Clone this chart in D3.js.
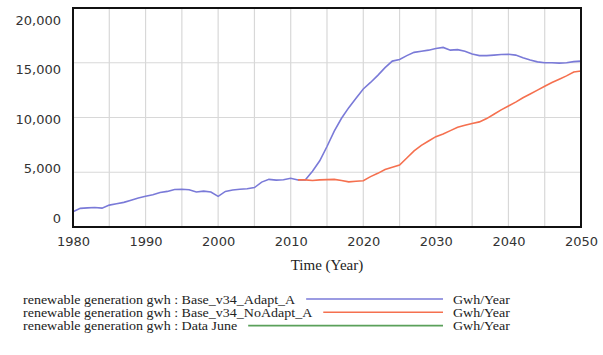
<!DOCTYPE html>
<html>
<head>
<meta charset="utf-8">
<script src="https://cdn.jsdelivr.net/npm/d3@7"></script>
<style>
  html, body { margin: 0; padding: 0; background: #fff; }
  svg { display: block; }
</style>
</head>
<body>
<svg id="chart" width="603" height="355"></svg>
<script>
// ---- data ----
const years = d3.range(1980, 2051);
const adaptValues = [
  1400, 1700, 1750, 1780, 1720, 2000, 2120, 2250, 2450, 2650,
  2800, 2950, 3150, 3250, 3420, 3450, 3400, 3200, 3280, 3200,
  2800, 3250, 3380, 3450, 3500, 3600, 4100, 4350, 4280, 4320,
  4450, 4300, 4300, 5100, 6050, 7350, 8750, 9930, 10900, 11750,
  12600, 13200, 13850, 14550, 15150, 15300, 15650, 15950, 16050, 16150,
  16300, 16400, 16150, 16200, 16050, 15800, 15650, 15650, 15700, 15750,
  15780, 15700, 15450, 15250, 15080, 15000, 15000, 14970, 15000, 15100,
  15150
];
const noAdaptYears = d3.range(2011, 2051);
const noAdaptValues = [
  4300, 4300, 4250, 4300, 4330, 4350, 4250, 4120, 4180, 4230,
  4600, 4900, 5250, 5450, 5660, 6300, 6950, 7450, 7850, 8250,
  8500, 8800, 9100, 9300, 9450, 9600, 9900, 10300, 10700, 11050,
  11400, 11800, 12150, 12500, 12850, 13200, 13500, 13800, 14150, 14250
];
const dataJuneYears = [];
const dataJuneValues = [];
const yTicks = [0, 5000, 10000, 15000, 20000];
const xTicks = [1980, 1990, 2000, 2010, 2020, 2030, 2040, 2050];
const xGrid = d3.range(1980, 2051, 5);
const legendLabels = [
  "renewable generation gwh : Base_v34_Adapt_A",
  "renewable generation gwh : Base_v34_NoAdapt_A",
  "renewable generation gwh : Data June"
];
const legendUnits = ["Gwh/Year", "Gwh/Year", "Gwh/Year"];
const seriesColors = ["#7a7ad8", "#f5704f", "#5aa05a"];

// ---- layout ----
const svg = d3.select("#chart");
const L = 73, R = 581, T = 8, B = 227;
const x = d3.scaleLinear().domain([1980, 2050]).range([L, R]);
const y = d3.scaleLinear().domain([0, 20000]).range([B, T]);
// tick labels in the source sit on a slightly compressed scale
const yLab = d3.scaleLinear().domain([0, 20000]).range([218, 20]);

// grid
const g = svg.append("g");
g.selectAll("line.vg").data(xGrid).enter().append("line")
  .attr("x1", d => x(d)).attr("x2", d => x(d))
  .attr("y1", T).attr("y2", B)
  .attr("stroke", "#d8d8d8").attr("stroke-width", 1.2);
g.selectAll("line.hg").data(yTicks).enter().append("line")
  .attr("x1", L).attr("x2", R)
  .attr("y1", d => y(d)).attr("y2", d => y(d))
  .attr("stroke", "#d8d8d8").attr("stroke-width", 1.2);

// lines
const lineGen = d3.line().x(d => x(d[0])).y(d => y(d[1]));
const adaptData = years.map((yr, i) => [yr, adaptValues[i]]);
const noAdaptData = noAdaptYears.map((yr, i) => [yr, noAdaptValues[i]]);
const juneData = dataJuneYears.map((yr, i) => [yr, dataJuneValues[i]]);

svg.append("path").datum(adaptData).attr("d", lineGen)
  .attr("fill", "none").attr("stroke", seriesColors[0]).attr("stroke-width", 1.6);
svg.append("path").datum(noAdaptData).attr("d", lineGen)
  .attr("fill", "none").attr("stroke", seriesColors[1]).attr("stroke-width", 1.6);
if (juneData.length) {
  svg.append("path").datum(juneData).attr("d", lineGen)
    .attr("fill", "none").attr("stroke", seriesColors[2]).attr("stroke-width", 1.6);
}

// frame
svg.append("rect").attr("x", L).attr("y", T).attr("width", R - L).attr("height", B - T)
  .attr("fill", "none").attr("stroke", "#111").attr("stroke-width", 2);

// y axis labels
const yAxis = d3.axisLeft(yLab).tickValues(yTicks).tickSize(0).tickPadding(0)
  .tickFormat(d3.format(","));
const ya = svg.append("g").attr("transform", "translate(61,0)").call(yAxis);
ya.select(".domain").remove();
ya.selectAll("text").attr("font-family", "DejaVu Sans, Verdana, sans-serif")
  .attr("font-size", 13).attr("fill", "#333");

// x axis labels
const xAxis = d3.axisBottom(x).tickValues(xTicks).tickSize(0).tickPadding(0)
  .tickFormat(d3.format("d"));
const xa = svg.append("g").attr("transform", "translate(0,237)").call(xAxis);
xa.select(".domain").remove();
xa.selectAll("text").attr("font-family", "DejaVu Sans, Verdana, sans-serif")
  .attr("font-size", 13).attr("fill", "#333");

// x title
svg.append("text").attr("x", (L + R) / 2).attr("y", 270).attr("text-anchor", "middle")
  .attr("font-family", "Liberation Serif, Times New Roman, serif")
  .attr("font-size", 15).attr("fill", "#222").text("Time (Year)");

// legend
const lg = svg.append("g");
const lgFont = 12, stretch = 14 / 12;
legendLabels.forEach((lab, i) => {
  const yy = 303.5 + i * 13.3;
  const t = lg.append("text").attr("x", 23).attr("y", yy)
    .attr("font-family", "Liberation Serif, Times New Roman, serif")
    .attr("font-size", lgFont).attr("fill", "#222").text(lab);
  const w = t.node().getComputedTextLength() * stretch;
  t.attr("textLength", w).attr("lengthAdjust", "spacingAndGlyphs");
  lg.append("line").attr("x1", 23 + w + 11).attr("x2", 443)
    .attr("y1", yy - 4.5).attr("y2", yy - 4.5)
    .attr("stroke", seriesColors[i]).attr("stroke-width", 1.6);
  const u = lg.append("text").attr("x", 453).attr("y", yy)
    .attr("font-family", "Liberation Serif, Times New Roman, serif")
    .attr("font-size", lgFont).attr("fill", "#222").text(legendUnits[i]);
  const uw = u.node().getComputedTextLength() * stretch;
  u.attr("textLength", uw).attr("lengthAdjust", "spacingAndGlyphs");
});
</script>
</body>
</html>
